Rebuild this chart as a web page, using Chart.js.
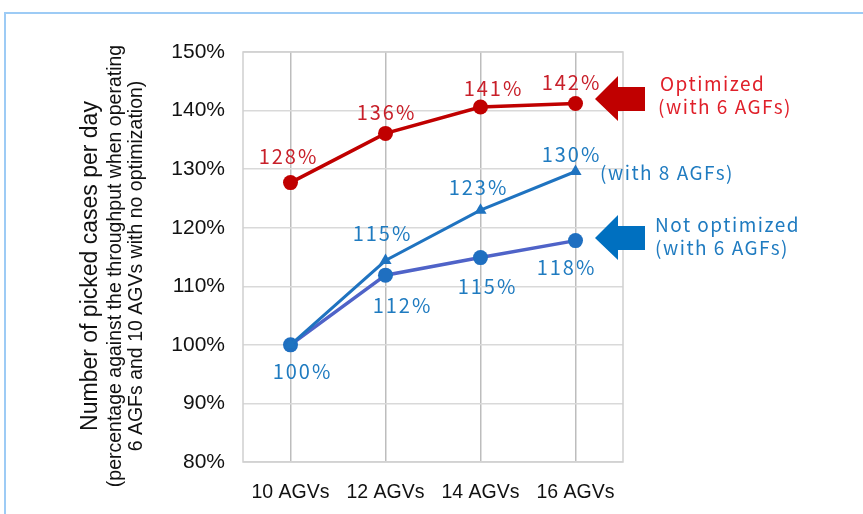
<!DOCTYPE html>
<html><head><meta charset="utf-8">
<script src="https://cdn.jsdelivr.net/npm/chart.js@4.4.1/dist/chart.umd.min.js"></script>
<style>html,body{margin:0;padding:0;background:#fff;}#wrap{position:relative;width:863px;height:514px;}</style>
</head><body><div id="wrap"><canvas id="c" width="863" height="514"></canvas></div>
<script>
const categories = ['10 AGVs', '12 AGVs', '14 AGVs', '16 AGVs'];
const optimized6 = [127.7, 136.1, 140.6, 141.2];
const optimized6Labels = ['128%', '136%', '141%', '142%'];
const optimized8 = [100, 114.4, 123.0, 129.6];
const optimized8Labels = ['', '115%', '123%', '130%'];
const notOptimized6 = [100, 111.9, 114.9, 117.8];
const notOptimized6Labels = ['100%', '112%', '115%', '118%'];
const yTicks = [80, 90, 100, 110, 120, 130, 140, 150];

const RED = '#c00000';
const BLUE = '#1f73c0';
const PURPLE = '#4f63c8';
const LBLUE = '#1f7bc0';
const LRED = '#c8202a';

// label offsets (style only)
const labelOffsets = [
  [[-3,-26],[0,-21],[12,-19],[-5,-21]],
  [[0,0],[-4,-27],[-3,-23],[-5,-17]],
  [[11,27],[16,30],[6,29],[-10,27]]
];

const decor = {
  id: 'decor',
  beforeDraw(chart) {
    const ctx = chart.ctx;
    ctx.save();
    ctx.strokeStyle = '#9dcbf5';
    ctx.lineWidth = 2;
    ctx.beginPath();
    ctx.moveTo(5, 520); ctx.lineTo(5, 13); ctx.lineTo(870, 13);
    ctx.stroke();
    ctx.restore();
  },
  beforeDatasetsDraw(chart) {
    const a = chart.chartArea, ctx = chart.ctx;
    ctx.save();
    ctx.strokeStyle = '#cfcfcf';
    ctx.lineWidth = 1.5;
    ctx.strokeRect(a.left, a.top, a.right - a.left, a.bottom - a.top);
    ctx.restore();
  },
  afterDraw(chart) {
    const ctx = chart.ctx;
    ctx.save();
    const labelSets = [optimized6Labels, optimized8Labels, notOptimized6Labels];
    const colors = [LRED, LBLUE, LBLUE];
    ctx.font = '20px "Noto Sans CJK JP", "Noto Sans", sans-serif';
    ctx.letterSpacing = '2px';
    ctx.textAlign = 'center';
    ctx.textBaseline = 'middle';
    labelSets.forEach((labels, di) => {
      const meta = chart.getDatasetMeta(di);
      meta.data.forEach((pt, i) => {
        if (!labels[i]) return;
        ctx.fillStyle = colors[di];
        ctx.fillText(labels[i], pt.x + labelOffsets[di][i][0] + 1, pt.y + labelOffsets[di][i][1]);
      });
    });
    function arrow(y, color) {
      ctx.fillStyle = color;
      ctx.beginPath();
      ctx.moveTo(595, y);
      ctx.lineTo(618, y - 23);
      ctx.lineTo(618, y - 12);
      ctx.lineTo(645, y - 12);
      ctx.lineTo(645, y + 12);
      ctx.lineTo(618, y + 12);
      ctx.lineTo(618, y + 22);
      ctx.closePath();
      ctx.fill();
    }
    arrow(99, RED);
    arrow(238, '#0070c0');
    ctx.textAlign = 'left';
    ctx.font = '19px "Noto Sans CJK JP", "Noto Sans", sans-serif';
    ctx.letterSpacing = '1.5px';
    ctx.fillStyle = '#e0202a';
    ctx.fillText('Optimized', 660, 84);
    ctx.fillText('(with 6 AGFs)', 658, 107);
    ctx.fillStyle = LBLUE;
    ctx.fillText('(with 8 AGFs)', 600, 173);
    ctx.fillText('Not optimized', 655, 225);
    ctx.fillText('(with 6 AGFs)', 655, 248);
    ctx.letterSpacing = '0px';
    ctx.fillStyle = '#111';
    ctx.textAlign = 'center';
    ctx.translate(0, 266);
    ctx.rotate(-Math.PI / 2);
    ctx.font = '23px "Liberation Sans", Arial, sans-serif';
    ctx.fillText('Number of picked cases per day', 0, 91);
    ctx.font = '19.5px "Liberation Sans", Arial, sans-serif';
    ctx.fillText('(percentage against the throughput when operating', 0, 116);
    ctx.fillText('6 AGFs and 10 AGVs with no optimization)', 0, 137);
    ctx.restore();
  }
};

new Chart(document.getElementById('c'), {
  type: 'line',
  data: {
    labels: categories,
    datasets: [
      { label: 'Optimized (with 6 AGFs)', data: optimized6, borderColor: RED, backgroundColor: RED,
        borderWidth: 3.5, pointStyle: 'circle', pointRadius: 7.5, pointBorderWidth: 0, pointBackgroundColor: RED },
      { label: 'Optimized (with 8 AGFs)', data: optimized8, borderColor: BLUE, backgroundColor: BLUE,
        borderWidth: 3, pointStyle: 'triangle', pointRadius: 7, pointBorderWidth: 0, pointBackgroundColor: BLUE },
      { label: 'Not optimized (with 6 AGFs)', data: notOptimized6, borderColor: PURPLE, backgroundColor: '#1f6fc0',
        borderWidth: 3.5, pointStyle: 'circle', pointRadius: 7.5, pointBorderWidth: 0, pointBackgroundColor: '#1f6fc0' }
    ]
  },
  options: {
    responsive: false,
    animation: false,
    layout: { padding: { top: 52, right: 240, left: 0, bottom: 0 } },
    plugins: { legend: { display: false }, tooltip: { enabled: false } },
    scales: {
      x: {
        offset: true,
        grid: { offset: false, color: '#bdbdbd', lineWidth: 1.5, drawTicks: false },
        border: { display: false },
        ticks: { color: '#111', font: { size: 19.5, family: '"Liberation Sans", Arial, sans-serif' }, padding: 19 },
        afterFit(s) { s.height = 52; }
      },
      y: {
        min: 80, max: 150,
        afterBuildTicks(s) { s.ticks = yTicks.map(v => ({ value: v })); },
        grid: { color: '#d9d9d9', lineWidth: 1.5, drawTicks: false },
        border: { display: false },
        ticks: { color: '#111', font: { size: 21, family: '"Liberation Sans", Arial, sans-serif' }, padding: 18,
          callback: v => v + '%' },
        afterFit(s) { s.width = 243; }
      }
    }
  },
  plugins: [decor]
});
</script></body></html>
